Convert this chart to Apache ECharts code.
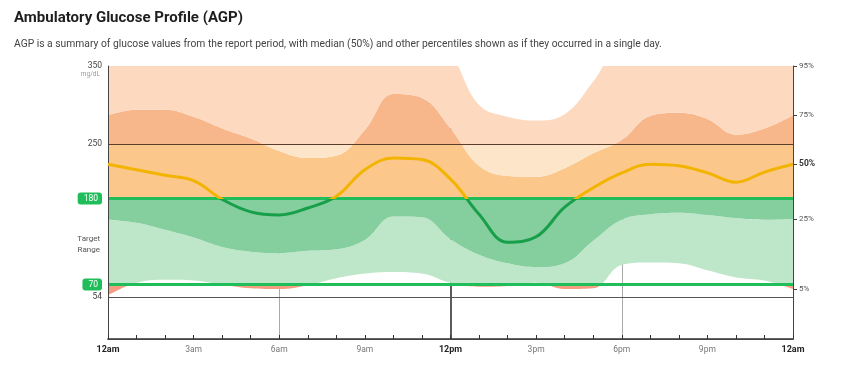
<!DOCTYPE html>
<html><head><meta charset="utf-8">
<script src="https://cdn.jsdelivr.net/npm/echarts@6/dist/echarts.min.js"></script>
<style>html,body{margin:0;padding:0;background:#fff}#c{width:851px;height:368px}</style>
</head><body><div id="c"></div>
<script>
// ---- data (mg/dL by hour of day) ----
const hours = ['0','1','2','3','4','5','6','7','8','9','10','11','12','13','14','15','16','17','18','19','20','21','22','23','24'];
const tickLabels = ['12am','3am','6am','9am','12pm','3pm','6pm','9pm','12am'];
const p5  = [56, 72, 76, 75, 70, 65, 64, 69, 78, 84, 86, 84, 72, 67, 68, 72, 64, 65, 95, 98, 97, 88, 79, 75, 64];
const p25 = [153,149,140,130,118,112,110,113,115,127,157,156,128,108, 97, 92, 97,126,153,160,162,159,155,153,154];
const p50 = [224,217,210,203,179,163,159,168,183,217,232,230,205,160,124,131,169,194,213,224,222,213,201,214,224];
const p75 = [287,294,294,285,270,257,241,232,235,268,314,309,270,222,209,208,219,238,255,286,290,282,262,270,287];
const p95 = [380,385,390,385,380,375,370,372,380,395,405,400,366,300,285,280,288,330,380,385,385,380,375,375,375];
const yLabels = [350, 250, 180, 70, 54];
const pctNames = ['95%','75%','50%','25%','5%'];
const targetHigh = 180, targetLow = 70, veryHigh = 250, veryLow = 54;
const dividerHours = ['6', '12', '18'];
const yMax = 350, yMin = 0;

const diff = (a, b) => a.map((v, i) => v - b[i]);
const outerC = ['#fdd9bf', '#fde5ca', '#bee6c9', '#f59d80'];
const innerC = ['#f8b68b', '#fcc78a', '#85ce9e', '#ef7b5d'];
const medC = ['#f2b400', '#179f49'];
const green = '#20bd5b';

const last = a => a[a.length - 1];
const rightVals = [Math.min(last(p95), yMax), last(p75), last(p50), last(p25), last(p5)];

const band = (name, data) => ({
  name, type: 'line', stack: 'agp', data, smooth: 0.4, symbol: 'none', silent: true,
  lineStyle: {width: 0, opacity: 0}, areaStyle: {opacity: 1, color: 'transparent'}, z: 2
});

const chart = echarts.init(document.getElementById('c'), null, {renderer: 'canvas'});
chart.setOption({
  animation: false,
  backgroundColor: '#fff',
  textStyle: {fontFamily: 'Roboto, sans-serif'},
  title: {
    text: 'Ambulatory Glucose Profile (AGP)',
    subtext: 'AGP is a summary of glucose values from the report period, with median (50%) and other percentiles shown as if they occurred in a single day.',
    left: 9, top: 6, itemGap: 13,
    textStyle: {fontSize: 15, fontWeight: 'bold', color: '#1e1e1e', fontFamily: 'Roboto'},
    subtextStyle: {fontSize: 10.3, color: '#444', fontFamily: 'Roboto'}
  },
  grid: {left: 108, right: 58, top: 66, bottom: 29},
  xAxis: [{
    type: 'category', data: hours, boundaryGap: false, z: 6,
    axisLine: {show: true, lineStyle: {color: '#333', width: 1.5}},
    axisTick: {show: true, inside: true, length: 4, interval: 0, lineStyle: {color: '#333'}},
    splitLine: {show: false},
    axisLabel: {
      margin: 6, color: '#777', fontSize: 8.5, interval: 2,
      formatter: (v, i) => { const t = tickLabels[Math.round(i / 3)]; return i % 12 === 0 ? '{b|' + t + '}' : t; },
      rich: {b: {fontWeight: 'bold', color: '#222', fontSize: 9}}
    }
  }, {
    type: 'category', data: hours, boundaryGap: false, position: 'top', z: 6,
    axisLine: {show: true, lineStyle: {color: '#444', width: 1}},
    axisTick: {show: false}, axisLabel: {show: false}, splitLine: {show: false}
  }],
  yAxis: [{
    type: 'value', min: yMin, max: yMax, z: 6,
    axisLine: {show: true, lineStyle: {color: '#444', width: 1}},
    axisTick: {show: false}, splitLine: {show: false},
    axisLabel: {
      customValues: yLabels, margin: 6, color: '#444', fontSize: 8.5,
      formatter: v => (v === targetHigh || v === targetLow) ? '{box|' + v + '}' : String(v),
      rich: {box: {backgroundColor: green, color: '#fff', borderRadius: 3, padding: [2, 4, 1, 6], fontSize: 8.5}}
    }
  }, {
    type: 'value', min: yMin, max: yMax, position: 'right', z: 6,
    axisLine: {show: true, lineStyle: {color: '#444', width: 1}},
    axisTick: {show: true, customValues: rightVals, length: 4, lineStyle: {color: '#444'}},
    splitLine: {show: false},
    axisLabel: {
      customValues: rightVals, margin: 6, color: '#555', fontSize: 8,
      formatter: v => { const i = rightVals.indexOf(v); const t = pctNames[i]; return t === '50%' ? '{b|' + t + '}' : t; },
      rich: {b: {fontWeight: 'bold', color: '#333', fontSize: 8.5}}
    }
  }],
  series: [
    {
      name: 'p5', type: 'line', stack: 'agp', data: p5, smooth: 0.4, symbol: 'none', silent: true,
      lineStyle: {width: 0, opacity: 0}, z: 2,
      markLine: {
        silent: true, symbol: 'none', z: 1, label: {show: false},
        data: dividerHours.map(h => ({xAxis: h, lineStyle: {type: 'solid', color: h === '12' ? '#333' : '#aaa', width: h === '12' ? 1.6 : 1}}))
      }
    },
    band('p5-p25', diff(p25, p5)),
    band('p25-p75', diff(p75, p25)),
    band('p75-p95', diff(p95, p75)),
    {
      name: 'median', type: 'line', data: p50, smooth: 0.4, symbol: 'none', silent: true, z: 10,
      lineStyle: {width: 3, color: medC[0]},
      markLine: {
        silent: true, symbol: 'none', z: 5, label: {show: false},
        data: [
          {yAxis: veryHigh, lineStyle: {type: 'solid', color: '#5a3e2b', width: 1.2}},
          {yAxis: veryLow, lineStyle: {type: 'solid', color: '#555', width: 1}},
          {yAxis: targetHigh, lineStyle: {type: 'solid', color: green, width: 3}},
          {yAxis: targetLow, lineStyle: {type: 'solid', color: green, width: 3}}
        ]
      }
    }
  ],
  graphic: [
    {type: 'text', x: 100, y: 71, style: {text: 'mg/dL', fontSize: 6.5, fill: '#999', align: 'right', fontFamily: 'Roboto'}},
    {type: 'text', x: 100, y: 233, style: {text: 'Target\nRange', fontSize: 8, lineHeight: 11, fill: '#555', align: 'right', fontFamily: 'Roboto'}}
  ]
});

// zone gradients in screen space (hard colour stops at thresholds)
const yTop = chart.convertToPixel({yAxisIndex: 0}, yMax);
const yBot = chart.convertToPixel({yAxisIndex: 0}, yMin);
const off = v => (yMax - v) / (yMax - yMin);
function zoneGrad(c) {
  const a = off(veryHigh), b = off(targetHigh), d = off(targetLow);
  return new echarts.graphic.LinearGradient(0, yTop, 0, yBot, [
    {offset: 0, color: c[0]}, {offset: a, color: c[0]},
    {offset: a, color: c[1]}, {offset: b, color: c[1]},
    {offset: b, color: c[2]}, {offset: d, color: c[2]},
    {offset: d, color: c[3]}, {offset: 1, color: c[3]}
  ], true);
}
function medGrad() {
  const b = off(targetHigh);
  return new echarts.graphic.LinearGradient(0, yTop, 0, yBot, [
    {offset: 0, color: medC[0]}, {offset: b, color: medC[0]},
    {offset: b, color: medC[1]}, {offset: 1, color: medC[1]}
  ], true);
}
chart.setOption({
  series: [
    {},
    {areaStyle: {opacity: 1, color: zoneGrad(outerC)}},
    {areaStyle: {opacity: 1, color: zoneGrad(innerC)}},
    {areaStyle: {opacity: 1, color: zoneGrad(outerC)}},
    {lineStyle: {width: 3, color: medGrad()}}
  ]
});
</script></body></html>
